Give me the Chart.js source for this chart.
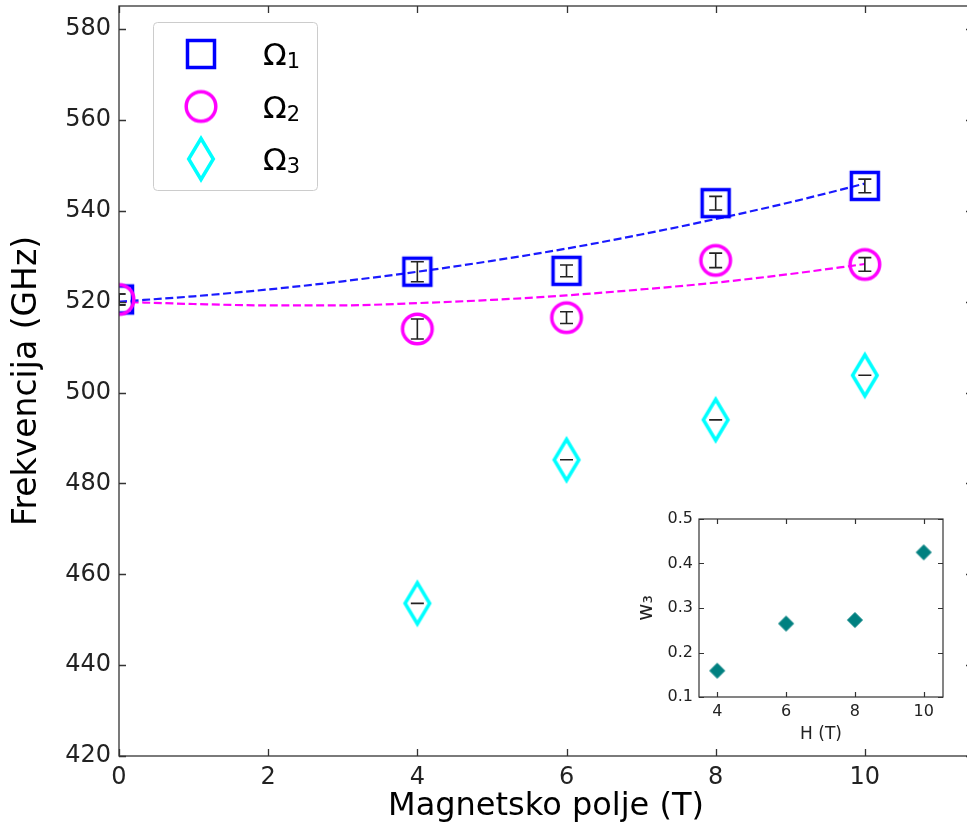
<!DOCTYPE html>
<html>
<head>
<meta charset="utf-8">
<script src="https://cdn.jsdelivr.net/npm/chart.js@4.4.0/dist/chart.umd.min.js"></script>
<style>
  html, body { margin: 0; padding: 0; background: #fff; overflow: hidden; }
  #wrap { position: relative; width: 967px; height: 829px; overflow: hidden; }
  #main { position: absolute; left: 0; top: 0; width: 985px; height: 829px; }
  #inset { position: absolute; left: 630px; top: 505px; width: 330px; height: 240px; }
</style>
</head>
<body>
<div id="wrap">
  <canvas id="main" width="985" height="829"></canvas>
  <canvas id="inset" width="330" height="240"></canvas>
</div>
<script>
// main plot data
const fields = [0, 4, 6, 8, 10];
const omega1 = [520.5, 526.6, 526.8, 541.7, 545.5];
const omega1Err = [1.2, 2.2, 1.3, 1.5, 1.5];
const omega2 = [520.5, 514.0, 516.5, 529.1, 528.2];
const omega2Err = [1.2, 2.2, 1.3, 1.6, 1.5];
const fields3 = [4, 6, 8, 10];
const omega3 = [453.6, 485.2, 494.0, 503.8];
const omega3Err = [0, 0, 0, 0];

// dashed fit curves
const fitFields = [0, 1, 2, 3, 4, 5, 6, 7, 8, 9, 10];
const fit1 = [520.0, 521.2, 522.7, 524.5, 526.6, 529.0, 531.7, 534.8, 538.2, 541.9, 546.0];
const fit2 = [520.0, 519.5, 519.2, 519.2, 519.7, 520.4, 521.4, 522.7, 524.2, 526.1, 528.3];

const seriesNames = ['Ω', 'Ω', 'Ω'];
const seriesSubs = ['1', '2', '3'];
const xTicks = [0, 2, 4, 6, 8, 10];
const yTicks = [420, 440, 460, 480, 500, 520, 540, 560, 580];

// inset data
const insetFields = [4, 6, 8, 10];
const w3 = [0.159, 0.265, 0.273, 0.425];
const insetXTicks = [4, 6, 8, 10];
const insetYTicks = [0.1, 0.2, 0.3, 0.4, 0.5];

const FONT = '"DejaVu Sans", sans-serif';
const BLUE = '#0000ff', MAGENTA = '#ff00ff', CYAN = '#00ffff', TEAL = '#008080';

function makeMarker(shape, color, filled) {
    const c = document.createElement('canvas');
    const w = shape === 'diamond' ? 34 : (shape === 'smallDiamond' ? 18 : 38);
    const h = shape === 'diamond' ? 50 : (shape === 'smallDiamond' ? 18 : 38);
    c.width = w; c.height = h;
    const ctx = c.getContext('2d');
    ctx.strokeStyle = color;
    ctx.fillStyle = color;
    ctx.lineWidth = 3.5;
    const cx = w / 2, cy = h / 2;
    ctx.beginPath();
    if (shape === 'square') {
        ctx.rect(cx - 13.5, cy - 13.5, 27, 27);
    } else if (shape === 'circle') {
        ctx.arc(cx, cy, 14.8, 0, Math.PI * 2);
    } else if (shape === 'diamond') {
        ctx.moveTo(cx, cy - 20.5);
        ctx.lineTo(cx + 12.3, cy);
        ctx.lineTo(cx, cy + 20.5);
        ctx.lineTo(cx - 12.3, cy);
        ctx.closePath();
    } else {
        ctx.lineWidth = 1;
        ctx.moveTo(cx, cy - 7.5);
        ctx.lineTo(cx + 7.5, cy);
        ctx.lineTo(cx, cy + 7.5);
        ctx.lineTo(cx - 7.5, cy);
        ctx.closePath();
    }
    if (filled) ctx.fill();
    ctx.stroke();
    return c;
}

const squareMk = makeMarker('square', BLUE, false);
const circleMk = makeMarker('circle', MAGENTA, false);
const diamondMk = makeMarker('diamond', CYAN, false);
const tealMk = makeMarker('smallDiamond', TEAL, true);

const toPoints = (xs, ys) => xs.map((x, i) => ({ x: x, y: ys[i] }));

// black error bars with caps
const errorBars = {
    id: 'errorBars',
    afterDatasetsDraw(chart) {
        const { ctx, chartArea, scales } = chart;
        ctx.save();
        ctx.beginPath();
        ctx.rect(chartArea.left, chartArea.top, chartArea.right - chartArea.left, chartArea.bottom - chartArea.top);
        ctx.clip();
        ctx.strokeStyle = '#222';
        ctx.lineWidth = 1.6;
        chart.data.datasets.forEach(ds => {
            if (!ds.errors) return;
            ds.data.forEach((p, i) => {
                const e = ds.errors[i];
                const px = scales.x.getPixelForValue(p.x);
                const y1 = scales.y.getPixelForValue(p.y - e);
                const y2 = scales.y.getPixelForValue(p.y + e);
                ctx.beginPath();
                ctx.moveTo(px, y1); ctx.lineTo(px, y2);
                ctx.moveTo(px - 6.5, y1); ctx.lineTo(px + 6.5, y1);
                ctx.moveTo(px - 6.5, y2); ctx.lineTo(px + 6.5, y2);
                ctx.stroke();
            });
        });
        ctx.restore();
    }
};

// box axes with inward ticks on every side
function boxAxes(tickLen, width) {
    return {
        id: 'boxAxes',
        afterDraw(chart) {
            const { ctx, chartArea: a, scales } = chart;
            ctx.save();
            ctx.strokeStyle = '#333';
            ctx.lineWidth = width;
            ctx.beginPath();
            scales.x.ticks.forEach(t => {
                const px = Math.round(scales.x.getPixelForValue(t.value)) + 0.5;
                ctx.moveTo(px, a.bottom); ctx.lineTo(px, a.bottom - tickLen);
                ctx.moveTo(px, a.top); ctx.lineTo(px, a.top + tickLen);
            });
            scales.y.ticks.forEach(t => {
                const py = Math.round(scales.y.getPixelForValue(t.value)) + 0.5;
                ctx.moveTo(a.left, py); ctx.lineTo(a.left + tickLen, py);
                ctx.moveTo(a.right, py); ctx.lineTo(a.right - tickLen, py);
            });
            ctx.stroke();
            ctx.strokeRect(a.left, a.top, a.right - a.left, a.bottom - a.top);
            ctx.restore();
        }
    };
}

const legendBox = {
    id: 'legendBox',
    afterDraw(chart) {
        const ctx = chart.ctx;
        const marks = [squareMk, circleMk, diamondMk];
        const rows = [54, 106.5, 159];
        ctx.save();
        ctx.fillStyle = 'rgba(255,255,255,0.8)';
        ctx.strokeStyle = '#cccccc';
        ctx.lineWidth = 1;
        ctx.beginPath();
        ctx.roundRect(153.5, 22.5, 164, 168, 4);
        ctx.fill();
        ctx.stroke();
        ctx.fillStyle = '#000';
        ctx.textBaseline = 'alphabetic';
        rows.forEach((cy, i) => {
            const m = marks[i];
            ctx.drawImage(m, 201 - m.width / 2, cy - m.height / 2);
            ctx.font = '31px ' + FONT;
            ctx.fillText(seriesNames[i], 263, cy + 11);
            const w = ctx.measureText(seriesNames[i]).width;
            ctx.font = '21px ' + FONT;
            ctx.fillText(seriesSubs[i], 263 + w, cy + 14);
        });
        ctx.restore();
    }
};

new Chart(document.getElementById('main'), {
    type: 'scatter',
    data: {
        datasets: [
            { label: 'Ω1', data: toPoints(fields, omega1), errors: omega1Err, pointStyle: squareMk, pointRadius: 15, showLine: false, clip: 0, order: 1 },
            { label: 'Ω2', data: toPoints(fields, omega2), errors: omega2Err, pointStyle: circleMk, pointRadius: 15, showLine: false, clip: 0, order: 0 },
            { label: 'Ω3', data: toPoints(fields3, omega3), errors: omega3Err, pointStyle: diamondMk, pointRadius: 15, showLine: false, clip: 0, order: 2 },
            { label: 'fit1', data: toPoints(fitFields, fit1), showLine: true, pointRadius: 0, borderColor: '#1a1aff', borderWidth: 2.2, borderDash: [8, 3.6], cubicInterpolationMode: 'monotone', clip: 0, order: 3 },
            { label: 'fit2', data: toPoints(fitFields, fit2), showLine: true, pointRadius: 0, borderColor: MAGENTA, borderWidth: 2.2, borderDash: [8, 3.6], cubicInterpolationMode: 'monotone', clip: 0, order: 4 }
        ]
    },
    options: {
        responsive: false,
        animation: false,
        devicePixelRatio: 1,
        layout: { autoPadding: false, padding: { left: 0, top: 6, right: 12, bottom: 0 } },
        plugins: { legend: { display: false }, tooltip: { enabled: false } },
        scales: {
            x: {
                type: 'linear', min: 0, max: 11.45,
                afterBuildTicks: s => { s.ticks = xTicks.map(v => ({ value: v })); },
                afterFit: s => { s.height = 73; s.paddingLeft = 0; s.paddingRight = 0; },
                grid: { display: false, drawTicks: false },
                border: { display: false },
                ticks: { font: { family: FONT, size: 24 }, color: '#222', padding: 7, maxRotation: 0 },
                title: { display: true, text: 'Magnetsko polje (T)', font: { family: FONT, size: 32 }, color: '#000', padding: { top: 0, bottom: 3 } }
            },
            y: {
                type: 'linear', min: 420, max: 585.1,
                afterBuildTicks: s => { s.ticks = yTicks.map(v => ({ value: v })); },
                afterFit: s => { s.width = 119; s.paddingTop = 0; s.paddingBottom = 0; },
                grid: { display: false, drawTicks: false },
                border: { display: false },
                ticks: { font: { family: FONT, size: 24 }, color: '#222', padding: 8 },
                title: { display: true, text: 'Frekvencija (GHz)', font: { family: FONT, size: 33 }, color: '#000', padding: { top: 8, bottom: 0 } }
            }
        }
    },
    plugins: [errorBars, boxAxes(7, 1.3), legendBox]
});

const insetBg = {
    id: 'insetBg',
    beforeDraw(chart) {
        const { ctx, chartArea: a } = chart;
        ctx.save();
        ctx.fillStyle = '#fff';
        ctx.fillRect(a.left, a.top, a.right - a.left, a.bottom - a.top);
        ctx.restore();
    }
};

new Chart(document.getElementById('inset'), {
    type: 'scatter',
    data: {
        datasets: [
            { label: 'w3', data: toPoints(insetFields, w3), pointStyle: tealMk, pointRadius: 8, showLine: false }
        ]
    },
    options: {
        responsive: false,
        animation: false,
        devicePixelRatio: 1,
        layout: { autoPadding: false, padding: { left: 0, top: 14, right: 17, bottom: 0 } },
        plugins: { legend: { display: false }, tooltip: { enabled: false } },
        scales: {
            x: {
                type: 'linear', min: 3.47, max: 10.56,
                afterBuildTicks: s => { s.ticks = insetXTicks.map(v => ({ value: v })); },
                afterFit: s => { s.height = 48; s.paddingLeft = 0; s.paddingRight = 0; },
                grid: { display: false, drawTicks: false },
                border: { display: false },
                ticks: { font: { family: FONT, size: 16 }, color: '#222', padding: 5, maxRotation: 0 },
                title: { display: true, text: 'H (T)', font: { family: FONT, size: 17 }, color: '#222', padding: { top: 0, bottom: 0 } }
            },
            y: {
                type: 'linear', min: 0.1, max: 0.5,
                afterBuildTicks: s => { s.ticks = insetYTicks.map(v => ({ value: v })); },
                afterFit: s => { s.width = 69; s.paddingTop = 0; s.paddingBottom = 0; },
                grid: { display: false, drawTicks: false },
                border: { display: false },
                ticks: { font: { family: FONT, size: 16 }, color: '#222', padding: 6, callback: v => v.toFixed(1) },
                title: { display: true, text: 'w₃', font: { family: FONT, size: 21 }, color: '#222', padding: { top: 4, bottom: 0 } }
            }
        }
    },
    plugins: [insetBg, boxAxes(5, 1.2)]
});
</script>
</body>
</html>
